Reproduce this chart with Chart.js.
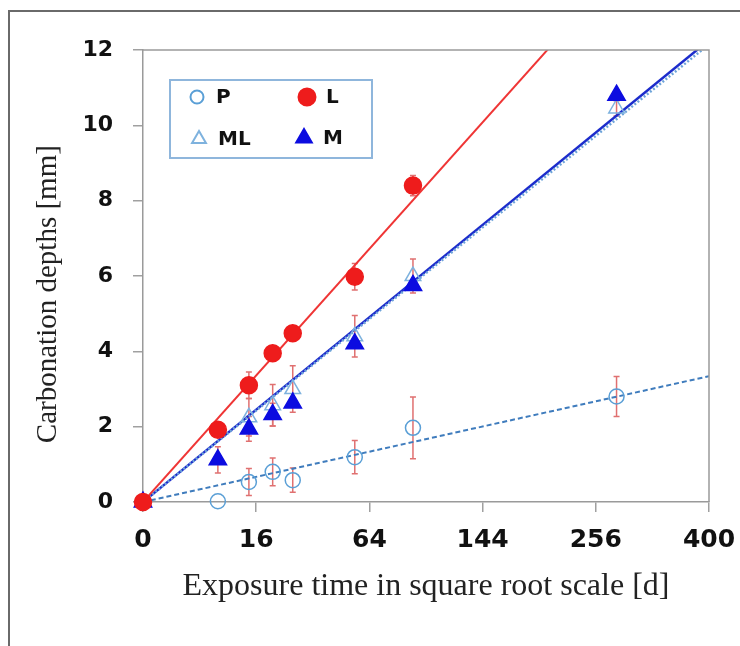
<!DOCTYPE html>
<html>
<head>
<meta charset="utf-8">
<script src="https://cdn.jsdelivr.net/npm/chart.js@4.4.1/dist/chart.umd.min.js"></script>
<style>
html, body { margin: 0; padding: 0; background: #fff; }
#wrap { position: relative; width: 740px; height: 646px; overflow: hidden; }
#frame { position: absolute; left: 8px; top: 10px; width: 800px; height: 700px;
         border-left: 2px solid #6a6a6a; border-top: 2px solid #6a6a6a; }
canvas { position: absolute; left: 0; top: 0; }
</style>
</head>
<body>
<div id="wrap">
  <div id="frame"></div>
  <canvas id="chart" width="740" height="646"></canvas>
</div>
<script>
// x axis is linear in sqrt(days); labels show the days
const tickDays = [0, 16, 64, 144, 256, 400];

const pDays  = [0, 7, 14, 21, 28, 56, 91, 280];
const pDepth = [0, 0.02, 0.53, 0.8, 0.58, 1.19, 1.97, 2.8];
const pErr   = [0, 0, 0.36, 0.37, 0.32, 0.44, 0.82, 0.53];

const lDays  = [0, 7, 14, 21, 28, 56, 91];
const lDepth = [0, 1.92, 3.1, 3.95, 4.48, 5.98, 8.4];
const lErr   = [0, 0, 0.35, 0.2, 0, 0.35, 0.27];

const mlDays  = [0, 14, 21, 28, 56, 91, 280];
const mlDepth = [0, 2.25, 2.57, 3.0, 4.4, 6.0, 10.45];
const mlErr   = [0, 0.5, 0.55, 0.62, 0.55, 0.45, 0.2];

const mDays  = [0, 7, 14, 21, 28, 56, 91, 280];
const mDepth = [0, 1.12, 1.94, 2.32, 2.63, 4.2, 5.75, 10.8];
const mErr   = [0, 0.35, 0.33, 0.3, 0, 0, 0, 0];

// fitted lines: end points [day, depth]
const fitDays = [0, 400];
const pFit  = [0, 3.34];
const lFit  = [0, 16.8];
const mlFit = [0, 12.15];
const mFit  = [0, 12.26];

const C_P = '#5a9fd6', C_PFIT = '#3f7cbd';
const C_L = '#ee1c1c', C_LFIT = '#ef3535';
const C_ML = '#7eb2de', C_MLFIT = '#6ea4d9';
const C_M = '#0c0ce0', C_MFIT = '#1c2ccc';
const C_ERR = '#e07070';

const pts = (days, vals) => days.map((d, i) => ({ x: Math.sqrt(d), y: vals[i] }));

const errSeries = [
  { days: pDays, vals: pDepth, err: pErr },
  { days: lDays, vals: lDepth, err: lErr },
  { days: mlDays, vals: mlDepth, err: mlErr },
  { days: mDays, vals: mDepth, err: mErr }
];

const errorBars = {
  id: 'errorBars',
  beforeDatasetsDraw(chart) {
    const { ctx, scales: { x, y } } = chart;
    ctx.save();
    ctx.strokeStyle = C_ERR;
    ctx.lineWidth = 1.5;
    errSeries.forEach(s => {
      s.days.forEach((d, i) => {
        const e = s.err[i];
        if (!e) return;
        const px = x.getPixelForValue(Math.sqrt(d));
        const top = y.getPixelForValue(s.vals[i] + e);
        const bot = y.getPixelForValue(s.vals[i] - e);
        ctx.beginPath();
        ctx.moveTo(px, top); ctx.lineTo(px, bot);
        ctx.moveTo(px - 3, top); ctx.lineTo(px + 3, top);
        ctx.moveTo(px - 3, bot); ctx.lineTo(px + 3, bot);
        ctx.stroke();
      });
    });
    ctx.restore();
  }
};

const frameBox = {
  id: 'frameBox',
  afterDraw(chart) {
    const { ctx, chartArea: a } = chart;
    ctx.save();
    ctx.strokeStyle = '#9a9a9a';
    ctx.lineWidth = 1.5;
    ctx.beginPath();
    ctx.moveTo(a.left, a.top); ctx.lineTo(a.right, a.top); ctx.lineTo(a.right, a.bottom);
    ctx.stroke();
    ctx.restore();
  }
};

const legendBox = {
  id: 'legendBox',
  afterDraw(chart) {
    const { ctx, chartArea: a } = chart;
    const bx = a.left + 27, by = a.top + 30;
    ctx.save();
    ctx.fillStyle = '#fff';
    ctx.fillRect(bx, by, 202, 78);
    ctx.strokeStyle = '#8fb6dc';
    ctx.lineWidth = 2;
    ctx.strokeRect(bx, by, 202, 78);
    const items = [
      { t: 'P', style: 'circle', r: 6.5, c: C_P, fill: false, dx: 27, dy: 17 },
      { t: 'L', style: 'circle', r: 8.5, c: C_L, fill: true, dx: 137, dy: 17 },
      { t: 'ML', style: 'triangle', r: 8, c: C_ML, fill: false, dx: 29, dy: 59 },
      { t: 'M', style: 'triangle', r: 9, c: C_M, fill: true, dx: 134, dy: 58 }
    ];
    ctx.font = 'bold 20px "DejaVu Sans"';
    ctx.textBaseline = 'middle';
    items.forEach(it => {
      ctx.fillStyle = it.fill ? it.c : 'rgba(0,0,0,0)';
      ctx.strokeStyle = it.c;
      Chart.helpers.drawPoint(ctx, { pointStyle: it.style, radius: it.r, rotation: 0, borderWidth: 1.5 }, bx + it.dx, by + it.dy);
      ctx.fillStyle = '#111';
      ctx.fillText(it.t, bx + it.dx + 19, by + it.dy + 1);
    });
    ctx.restore();
  }
};

const marker = (label, days, vals, color, style, r, fill, order) => ({
  type: 'scatter', label, data: pts(days, vals), order,
  pointStyle: style, pointRadius: r, pointHoverRadius: r,
  backgroundColor: fill ? color : 'rgba(0,0,0,0)', borderColor: color,
  borderWidth: 1.5, clip: false
});

const fitLine = (label, vals, color, width, dash, order) => ({
  type: 'line', label, data: pts(fitDays, vals), order,
  borderColor: color, borderWidth: width, borderDash: dash,
  pointRadius: 0, fill: false, tension: 0
});

new Chart(document.getElementById('chart'), {
  data: {
    datasets: [
      marker('M', mDays, mDepth, C_M, 'triangle', 10, true, 1),
      marker('L', lDays, lDepth, C_L, 'circle', 8.5, true, 0),
      marker('ML', mlDays, mlDepth, C_ML, 'triangle', 9, false, 2),
      marker('P', pDays, pDepth, C_P, 'circle', 7.5, false, 3),
      fitLine('L fit', lFit, C_LFIT, 2, [], 10),
      fitLine('ML fit', mlFit, C_MLFIT, 2.5, [2, 2], 11),
      fitLine('M fit', mFit, C_MFIT, 2.5, [], 12),
      fitLine('P fit', pFit, C_PFIT, 2, [5, 3], 13)
    ]
  },
  options: {
    responsive: false,
    animation: false,
    devicePixelRatio: 1,
    layout: { padding: { left: 27, right: 31, top: 50, bottom: 0 } },
    plugins: { legend: { display: false }, tooltip: { enabled: false } },
    scales: {
      x: {
        type: 'linear', min: 0, max: 20,
        afterBuildTicks: s => { s.ticks = tickDays.map(d => ({ value: Math.sqrt(d) })); },
        afterFit: s => { s.height = 144; s.paddingLeft = 0; s.paddingRight = 0; },
        ticks: {
          callback: (v, i) => String(tickDays[i]),
          font: { family: 'DejaVu Sans', size: 25, weight: 'bold' },
          color: '#111', padding: 13, maxRotation: 0
        },
        grid: { drawOnChartArea: false, drawTicks: true, tickLength: 10, color: '#a0a0a0', lineWidth: 1.5 },
        border: { color: '#9a9a9a', width: 1.5 },
        title: {
          display: true, text: 'Exposure time in square root scale [d]',
          font: { family: 'Liberation Serif', size: 32 }, color: '#222',
          padding: { top: 0, bottom: 40 }
        }
      },
      y: {
        type: 'linear', min: 0, max: 12,
        afterFit: s => { s.width = 116; s.paddingTop = 0; s.paddingBottom = 0; },
        ticks: {
          stepSize: 2,
          font: { family: 'DejaVu Sans', size: 22, weight: 'bold' },
          color: '#111', padding: 20
        },
        grid: { drawOnChartArea: false, drawTicks: true, tickLength: 10, color: '#a0a0a0', lineWidth: 1.5 },
        border: { color: '#9a9a9a', width: 1.5 },
        title: {
          display: true, text: 'Carbonation depths [mm]     ',
          font: { family: 'Liberation Serif', size: 29 }, color: '#222',
          padding: { top: 4, bottom: 4 }
        }
      }
    }
  },
  plugins: [errorBars, frameBox, legendBox]
});
</script>
</body>
</html>
